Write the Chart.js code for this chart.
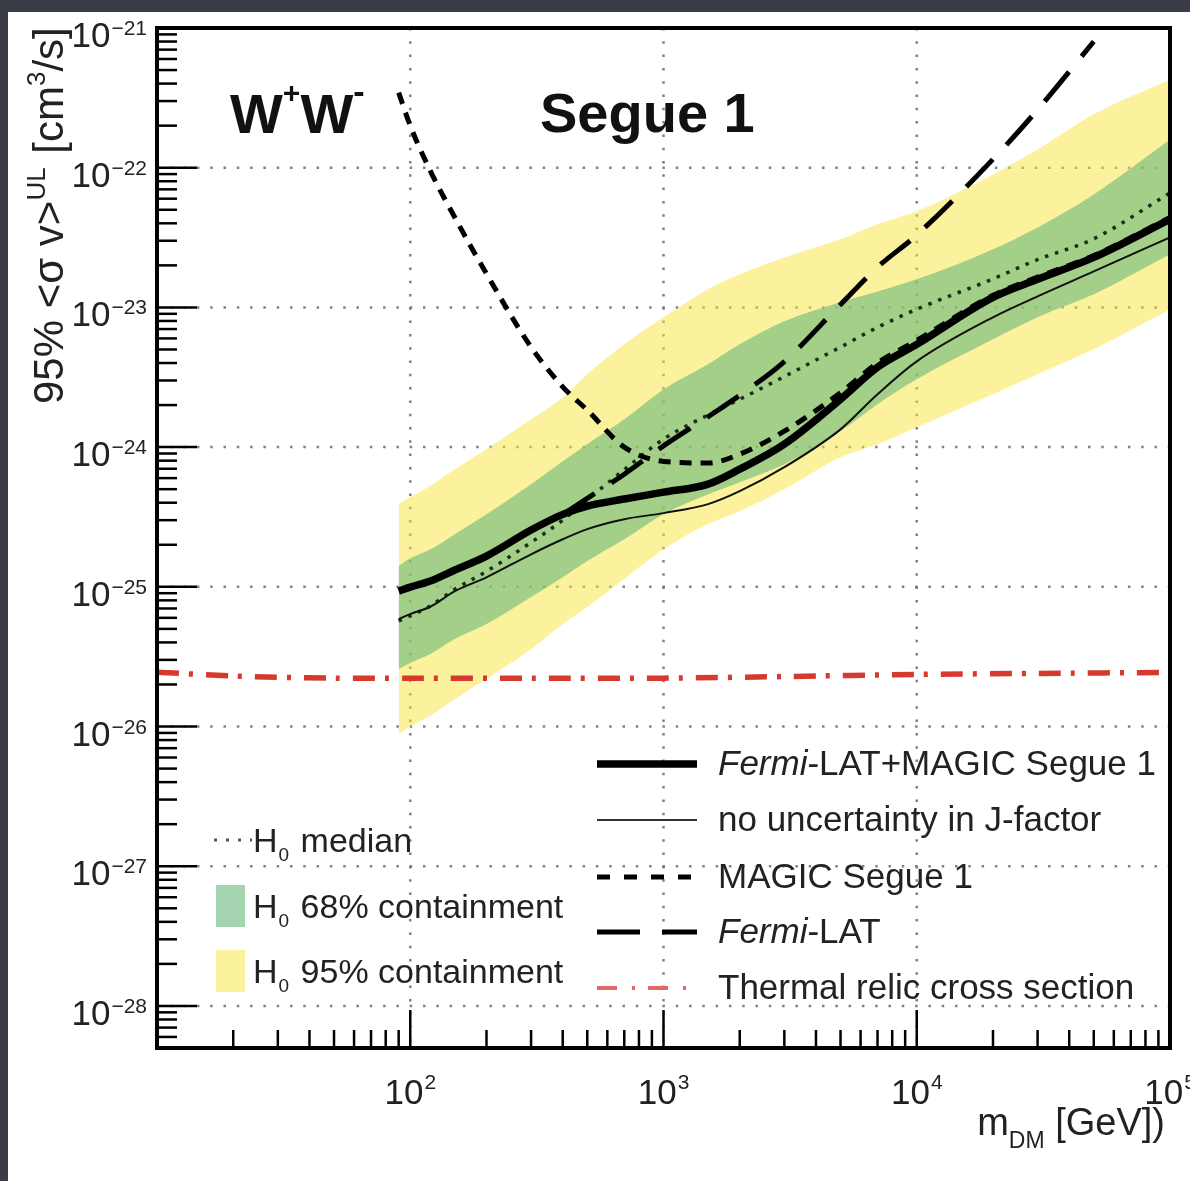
<!DOCTYPE html>
<html>
<head>
<meta charset="utf-8">
<title>W+W- Segue 1</title>
<script src="https://cdn.jsdelivr.net/npm/chart.js@4.4.1/dist/chart.umd.min.js"></script>
<style>
  html, body { margin: 0; padding: 0; background: #3a3d45; }
  canvas { display: block; }
</style>
</head>
<body>
<canvas id="segueChart" width="1190" height="1181"></canvas>
<script>
// Dark matter mass grid (GeV)
const masses = [90, 100, 120, 150, 200, 300, 400, 500, 700, 1000, 1500, 2000, 3000, 5000, 7000, 1e4, 2e4, 3e4, 5e4, 1e5];

// 95% UL <sigma v> (cm^3/s)
const combinedUL = [9.3e-26, 9.95e-26, 1.1e-25, 1.32e-25, 1.66e-25, 2.55e-25, 3.3e-25, 3.78e-25, 4.25e-25, 4.76e-25, 5.43e-25, 6.95e-25, 1.05e-24, 2.2e-24, 3.73e-24, 5.44e-24, 1.18e-23, 1.59e-23, 2.28e-23, 4.27e-23];
const noJfactorUL = [5.87e-26, 6.38e-26, 7.2e-26, 9.3e-26, 1.17e-25, 1.71e-25, 2.19e-25, 2.59e-25, 3.05e-25, 3.37e-25, 3.91e-25, 4.84e-25, 7.18e-25, 1.34e-24, 2.39e-24, 4.11e-24, 8.5e-24, 1.2e-23, 1.81e-23, 3.17e-23];
const magicUL = [3.45e-22, 2.0e-22, 9.5e-23, 4.4e-23, 1.74e-23, 5.2e-24, 2.7e-24, 1.84e-24, 1.0e-24, 7.9e-25, 7.7e-25, 8.9e-25, 1.3e-24, 2.45e-24, 4.0e-24, 5.8e-24, 1.22e-23, 1.65e-23, 2.35e-23, 4.4e-23];
const fermiUL = [null, null, null, null, null, null, 3.3e-25, 4.3e-25, 6.4e-25, 1.02e-24, 1.65e-24, 2.35e-24, 4.1e-24, 1.05e-23, 1.94e-23, 3.3e-23, 1.15e-22, 2.6e-22, 8.0e-22, null];
const h0Median = [5.7e-26, 6.2e-26, 7.3e-26, 9.6e-26, 1.29e-25, 2.08e-25, 3.0e-25, 4.2e-25, 6.9e-25, 1.14e-24, 1.7e-24, 2.2e-24, 3.2e-24, 5.2e-24, 7.2e-24, 9.7e-24, 1.6e-23, 2.2e-23, 3.1e-23, 6.6e-23];

// H0 containment bands
const band95Up = [3.91e-25, 4.4e-25, 5.3e-25, 6.95e-25, 9.66e-25, 1.58e-24, 2.27e-24, 3.32e-24, 5.44e-24, 8.5e-24, 1.35e-23, 1.73e-23, 2.28e-23, 3.07e-23, 3.93e-23, 4.87e-23, 8.95e-23, 1.35e-22, 2.41e-22, 4.28e-22];
const band68Up = [1.41e-25, 1.6e-25, 1.85e-25, 2.38e-25, 3.31e-25, 5.43e-25, 7.93e-25, 1.05e-24, 1.58e-24, 2.59e-24, 3.92e-24, 5.44e-24, 7.96e-24, 1.09e-23, 1.3e-23, 1.59e-23, 2.61e-23, 3.74e-23, 6.44e-23, 1.59e-22];
const band68Low = [2.58e-26, 2.85e-26, 3.3e-26, 4.23e-26, 5.41e-26, 8.44e-26, 1.17e-25, 1.53e-25, 2.19e-25, 3.31e-25, 4.6e-25, 5.61e-25, 7.55e-25, 1.3e-24, 2.03e-24, 3.06e-24, 5.91e-24, 8.5e-24, 1.24e-23, 2.4e-23];
const band95Low = [8.83e-27, 1.0e-26, 1.2e-26, 1.57e-26, 2.19e-26, 3.58e-26, 5.41e-26, 7.16e-26, 1.14e-25, 1.86e-25, 2.81e-25, 3.48e-25, 5.0e-25, 8.47e-25, 1.05e-24, 1.39e-24, 2.39e-24, 3.32e-24, 5.01e-24, 9.69e-24];

// Thermal relic cross section
const thermalMasses = [10, 20, 50, 100, 300, 1000, 3000, 1e4, 3e4, 1e5];
const thermalXsec = [2.45e-26, 2.3e-26, 2.22e-26, 2.22e-26, 2.22e-26, 2.22e-26, 2.28e-26, 2.36e-26, 2.4e-26, 2.44e-26];

// Axis ticks
const xDecades = [1e2, 1e3, 1e4, 1e5];
const xDecadeExps = ['2', '3', '4', '5'];
const yDecades = [1e-21, 1e-22, 1e-23, 1e-24, 1e-25, 1e-26, 1e-27, 1e-28];
const yDecadeExps = ['\u221221', '\u221222', '\u221223', '\u221224', '\u221225', '\u221226', '\u221227', '\u221228'];

const GREEN = 'rgba(104, 184, 121, 0.6)';
const YELLOW = 'rgba(250, 230, 60, 0.5)';
const RED = '#d63a2f';
const FONT = '"Liberation Sans", Arial, Helvetica, sans-serif';

function toPoints(xs, ys) {
    return xs.map((m, i) => ({ x: m, y: ys[i] })).filter(p => p.y !== null);
}

function lineSet(label, xs, ys, style) {
    return Object.assign({
        label: label,
        data: toPoints(xs, ys),
        pointRadius: 0,
        fill: false,
        cubicInterpolationMode: 'monotone'
    }, style);
}

// text with a raised (or lowered) small part
function drawRuns(ctx, x, y, runs) {
    runs.forEach(r => {
        ctx.font = r.font;
        ctx.fillText(r.text, x, y + (r.dy || 0));
        x += ctx.measureText(r.text).width + (r.gap || 0);
    });
    return x;
}
function runsWidth(ctx, runs) {
    let w = 0;
    runs.forEach(r => { ctx.font = r.font; w += ctx.measureText(r.text).width + (r.gap || 0); });
    return w;
}

const framePlugin = {
    id: 'rootFrame',
    beforeDraw(chart) {
        const ctx = chart.ctx;
        ctx.save();
        ctx.fillStyle = '#3a3d45';
        ctx.fillRect(0, 0, chart.width, chart.height);
        ctx.fillStyle = '#ffffff';
        ctx.fillRect(8, 12, chart.width - 8, chart.height - 12);
        ctx.restore();
    },
    beforeDatasetsDraw(chart) {
        const { ctx, chartArea: a, scales } = chart;
        ctx.save();
        ctx.strokeStyle = 'rgba(115, 115, 115, 0.9)';
        ctx.lineWidth = 2.5;
        ctx.setLineDash([2.5, 10.8]);
        xDecades.slice(0, 3).forEach(v => {
            const px = scales.x.getPixelForValue(v);
            ctx.beginPath(); ctx.moveTo(px, a.top); ctx.lineTo(px, a.bottom); ctx.stroke();
        });
        yDecades.slice(1).forEach(v => {
            const py = scales.y.getPixelForValue(v);
            ctx.beginPath(); ctx.moveTo(a.left, py); ctx.lineTo(a.right, py); ctx.stroke();
        });
        ctx.restore();
    },
    afterDatasetsDraw(chart) {
        const { ctx, chartArea: a, scales } = chart;
        const xs = scales.x, ys = scales.y;
        ctx.save();

        // ticks
        ctx.strokeStyle = '#000';
        ctx.lineWidth = 2.5;
        for (let d = 10; d < 1e5; d *= 10) {
            for (let k = 1; k <= 9; k++) {
                const v = d * k;
                const px = xs.getPixelForValue(v);
                const len = k === 1 ? 38 : 18;
                ctx.beginPath(); ctx.moveTo(px, a.bottom); ctx.lineTo(px, a.bottom - len); ctx.stroke();
            }
        }
        for (let d = 1e-29; d < 1e-21; d *= 10) {
            for (let k = 1; k <= 9; k++) {
                const v = d * k;
                if (v < ys.min * 1.01) continue;
                const py = ys.getPixelForValue(v);
                const len = k === 1 ? 40 : 20;
                ctx.beginPath(); ctx.moveTo(a.left, py); ctx.lineTo(a.left + len, py); ctx.stroke();
            }
        }

        // frame
        ctx.lineWidth = 4;
        ctx.strokeRect(a.left, a.top, a.right - a.left, a.bottom - a.top);

        // tick labels
        ctx.fillStyle = '#222';
        ctx.textAlign = 'left';
        ctx.textBaseline = 'alphabetic';
        yDecades.forEach((v, i) => {
            const py = ys.getPixelForValue(v);
            const runs = [
                { text: '10', font: '35px ' + FONT, gap: 1 },
                { text: yDecadeExps[i], font: '21px ' + FONT, dy: -12 }
            ];
            const w = runsWidth(ctx, runs);
            drawRuns(ctx, 147 - w, py + 19, runs);
        });
        xDecades.forEach((v, i) => {
            const px = xs.getPixelForValue(v);
            const runs = [
                { text: '10', font: '35px ' + FONT, gap: 1 },
                { text: xDecadeExps[i], font: '21px ' + FONT, dy: -15 }
            ];
            const w = runsWidth(ctx, runs);
            drawRuns(ctx, px - w / 2, 1104, runs);
        });

        // axis titles
        const xt = [
            { text: 'm', font: '38px ' + FONT },
            { text: 'DM', font: '23px ' + FONT, dy: 13 },
            { text: ' [GeV])', font: '38px ' + FONT }
        ];
        drawRuns(ctx, 1165 - runsWidth(ctx, xt), 1135, xt);

        ctx.save();
        ctx.translate(63, 404);
        ctx.rotate(-Math.PI / 2);
        drawRuns(ctx, 0, 0, [
            { text: '95% <\u03c3 v>', font: '42px ' + FONT },
            { text: 'UL', font: '26px ' + FONT, dy: -18, gap: 2 },
            { text: ' [cm', font: '42px ' + FONT },
            { text: '3', font: '26px ' + FONT, dy: -18 },
            { text: '/s]', font: '42px ' + FONT }
        ]);
        ctx.restore();

        // channel and target labels
        ctx.fillStyle = '#111';
        drawRuns(ctx, 230, 133, [
            { text: 'W', font: 'bold 56px ' + FONT },
            { text: '+', font: 'bold 30px ' + FONT, dy: -30 },
            { text: 'W', font: 'bold 56px ' + FONT },
            { text: '-', font: 'bold 34px ' + FONT, dy: -30 }
        ]);
        ctx.font = 'bold 56px ' + FONT;
        ctx.fillText('Segue 1', 540, 132);

        // left legend (H0 expectations)
        ctx.fillStyle = '#222';
        ctx.strokeStyle = '#555';
        ctx.lineWidth = 3;
        ctx.setLineDash([3, 9]);
        ctx.beginPath(); ctx.moveTo(214, 840); ctx.lineTo(252, 840); ctx.stroke();
        ctx.setLineDash([]);
        const h0 = (y, rest) => drawRuns(ctx, 253, y, [
            { text: 'H', font: '34px ' + FONT, gap: 1 },
            { text: '0', font: '19px ' + FONT, dy: 9, gap: 2 },
            { text: rest, font: '34px ' + FONT }
        ]);
        h0(852, ' median');
        ctx.fillStyle = GREEN;
        ctx.fillRect(216, 885, 29, 42);
        ctx.fillStyle = '#222';
        h0(918, ' 68% containment');
        ctx.fillStyle = YELLOW;
        ctx.fillRect(216, 950, 29, 42);
        ctx.fillStyle = '#222';
        h0(983, ' 95% containment');

        // right legend (limits)
        const rows = [
            { y: 764, w: 7.5, dash: [], color: '#000', runs: [{ text: 'Fermi', font: 'italic 35px ' + FONT }, { text: '-LAT+MAGIC Segue 1', font: '35px ' + FONT }] },
            { y: 820, w: 2, dash: [], color: '#333', runs: [{ text: 'no uncertainty in J-factor', font: '35px ' + FONT }] },
            { y: 877, w: 5, dash: [13, 14], color: '#000', runs: [{ text: 'MAGIC Segue 1', font: '35px ' + FONT }] },
            { y: 932, w: 5, dash: [43, 22], color: '#000', runs: [{ text: 'Fermi', font: 'italic 35px ' + FONT }, { text: '-LAT', font: '35px ' + FONT }] },
            { y: 988, w: 4, dash: [20, 15, 3, 13], color: '#e06a63', runs: [{ text: 'Thermal relic cross section', font: '35px ' + FONT }] }
        ];
        rows.forEach(r => {
            ctx.strokeStyle = r.color;
            ctx.lineWidth = r.w;
            ctx.setLineDash(r.dash);
            ctx.beginPath(); ctx.moveTo(597, r.y); ctx.lineTo(697, r.y); ctx.stroke();
            ctx.setLineDash([]);
            ctx.fillStyle = '#222';
            drawRuns(ctx, 718, r.y + 11, r.runs);
        });

        ctx.restore();
    }
};

const ctx = document.getElementById('segueChart');
new Chart(ctx, {
    type: 'line',
    data: {
        datasets: [
            lineSet('Fermi-LAT+MAGIC Segue 1', masses, combinedUL, { borderColor: '#000', borderWidth: 7.5 }),
            lineSet('no uncertainty in J-factor', masses, noJfactorUL, { borderColor: '#111', borderWidth: 2 }),
            lineSet('MAGIC Segue 1', masses, magicUL, { borderColor: '#000', borderWidth: 5, borderDash: [12, 9] }),
            lineSet('Fermi-LAT', masses, fermiUL, { borderColor: '#000', borderWidth: 5, borderDash: [38, 20] }),
            lineSet('H0 median', masses, h0Median, { borderColor: '#18301b', borderWidth: 3.5, borderDash: [3.5, 7] }),
            lineSet('Thermal relic cross section', thermalMasses, thermalXsec, { borderColor: RED, borderWidth: 5.5, borderDash: [22, 10, 4, 13], cubicInterpolationMode: 'default', tension: 0.3 }),
            lineSet('H0 68% upper', masses, band68Up, { borderWidth: 0, borderColor: 'rgba(0,0,0,0)', backgroundColor: GREEN, fill: 7 }),
            lineSet('H0 68% lower', masses, band68Low, { borderWidth: 0, borderColor: 'rgba(0,0,0,0)' }),
            lineSet('H0 95% upper', masses, band95Up, { borderWidth: 0, borderColor: 'rgba(0,0,0,0)', backgroundColor: YELLOW, fill: 9 }),
            lineSet('H0 95% lower', masses, band95Low, { borderWidth: 0, borderColor: 'rgba(0,0,0,0)' })
        ]
    },
    options: {
        responsive: false,
        animation: false,
        devicePixelRatio: 1,
        layout: { padding: { left: 157, right: 20, top: 28, bottom: 133 } },
        scales: {
            x: { type: 'logarithmic', min: 10, max: 1e5, display: false },
            y: { type: 'logarithmic', min: 5e-29, max: 1e-21, display: false }
        },
        plugins: {
            legend: { display: false },
            tooltip: { enabled: false }
        }
    },
    plugins: [framePlugin]
});
</script>
</body>
</html>
